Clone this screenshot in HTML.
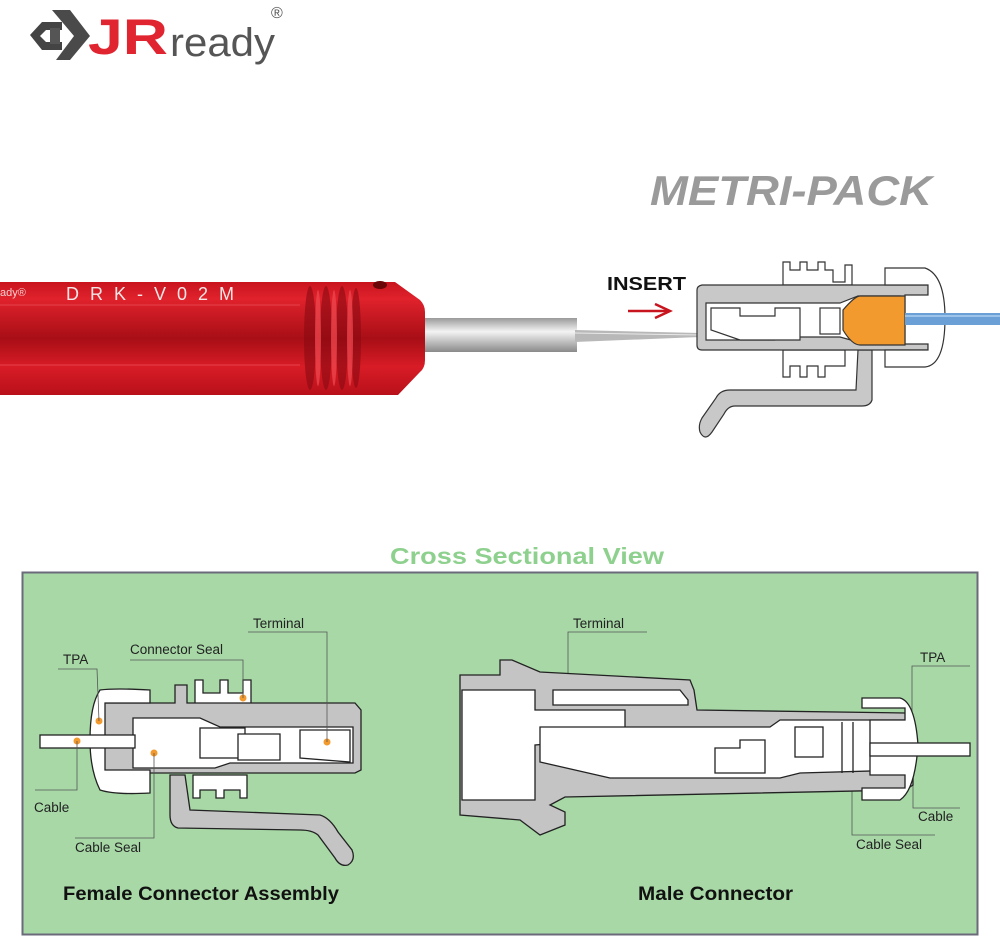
<!DOCTYPE html>
<html><head><meta charset="utf-8"><style>
html,body{margin:0;padding:0;background:#fff;width:1000px;height:941px;overflow:hidden}
svg{display:block}
text{font-family:"Liberation Sans",sans-serif}
</style></head><body>
<svg width="1000" height="941" viewBox="0 0 1000 941" xmlns="http://www.w3.org/2000/svg">
<defs>
<linearGradient id="red" x1="0" y1="0" x2="0" y2="1">
<stop offset="0" stop-color="#c8141e"/><stop offset="0.15" stop-color="#e0222c"/>
<stop offset="0.5" stop-color="#a80e16"/><stop offset="0.75" stop-color="#d81c26"/><stop offset="1" stop-color="#b8101a"/>
</linearGradient>
<linearGradient id="steel" x1="0" y1="0" x2="0" y2="1">
<stop offset="0" stop-color="#9a9a9a"/><stop offset="0.4" stop-color="#f4f4f4"/><stop offset="1" stop-color="#8a8a8a"/>
</linearGradient>
</defs>
<!-- logo -->
<g>
<polygon points="30,35 42,22 62,22 62,30 46,30 40,36 46,42 62,42 62,50 42,50" fill="#444"/>
<polygon points="52,10 70,10 90,36 70,60 56,60 74,36" fill="#4a4a4a"/>
<polygon points="50,28 60,28 60,44 50,44" fill="#555"/>
<text x="88" y="54" font-size="50" font-weight="bold" fill="#e02530" textLength="80" lengthAdjust="spacingAndGlyphs">JR</text>
<text x="170" y="56" font-size="40" fill="#555" textLength="105" lengthAdjust="spacingAndGlyphs">ready</text>
<text x="271" y="18" font-size="16" fill="#555">®</text>
</g>
<text x="650" y="205" font-size="42" font-weight="bold" font-style="italic" fill="#9a9a9a" textLength="282" lengthAdjust="spacingAndGlyphs">METRI-PACK</text>
<!-- tool -->
<rect x="425" y="318" width="152" height="34" fill="url(#steel)"/>
<polygon points="575,330 700,333 700,337 575,342" fill="#b8b8b8"/>
<line x1="575" y1="333" x2="700" y2="335" stroke="#e8e8e8" stroke-width="1"/>
<path d="M0,282 H395 L420,300 Q425,305 425,312 V360 Q425,368 420,372 L398,395 H0 Z" fill="url(#red)"/>
<g fill="#8a0a12" opacity="0.6">
<ellipse cx="310" cy="338" rx="6" ry="52"/><ellipse cx="326" cy="338" rx="6" ry="52"/><ellipse cx="342" cy="338" rx="6" ry="52"/><ellipse cx="356" cy="338" rx="5" ry="50"/>
</g>
<g fill="#f04a52" opacity="0.7">
<ellipse cx="318" cy="338" rx="3" ry="48"/><ellipse cx="334" cy="338" rx="3" ry="48"/><ellipse cx="350" cy="338" rx="3" ry="48"/>
</g>
<line x1="0" y1="305" x2="300" y2="305" stroke="#e8434b" stroke-width="1"/>
<line x1="0" y1="365" x2="300" y2="365" stroke="#e8434b" stroke-width="1"/>
<ellipse cx="380" cy="285" rx="7" ry="4" fill="#6a0608"/>
<text x="0" y="296" font-size="11" fill="#f3d0d0">ady®</text>
<text x="66" y="300" font-size="18" fill="#f5e6e6" textLength="168" lengthAdjust="spacing">DRK-V02M</text>
<!-- insert -->
<text x="607" y="290" font-size="18" font-weight="bold" fill="#111" textLength="79" lengthAdjust="spacingAndGlyphs">INSERT</text>
<line x1="628" y1="311" x2="668" y2="311" stroke="#c8141e" stroke-width="2.5"/>
<polyline points="655,304 670,311 655,318" fill="none" stroke="#c8141e" stroke-width="2.5"/>
<!-- top connector -->
<g stroke="#333" stroke-width="1.2">
<path d="M858,350 L872,350 L872,400 Q870,406 862,406 L735,406 Q728,406 724,414 L712,432 Q705,442 700,432 Q698,425 702,418 L716,398 Q720,390 730,390 L856,390 Z" fill="#c8c8c8"/>
<path d="M783,285 V262 H790 V270 H800 V262 H807 V270 H818 V262 H825 V270 H833 V282 H845 V265 H852 V285 Z" fill="#fff"/>
<path d="M783,350 V377 H790 V366 H800 V377 H807 V366 H818 V377 H825 V366 H845 V350 Z" fill="#fff"/>
<path d="M697,290 Q697,286 702,285 H928 V350 H702 Q697,350 697,345 Z" fill="#c8c8c8"/>
<path d="M706,303 H840 L858,296 H900 V342 H858 L840,337 H780 L775,340 H706 Z" fill="#fff"/>
<path d="M885,268 H925 Q945,275 945,318 Q945,365 925,367 H885 V350 H928 V344 H905 V295 H928 V285 H885 Z" fill="#fff"/>
<path d="M843,310 Q855,296 860,296 H905 V345 H860 Q852,345 843,330 Z" fill="#f29a2e"/>
<path d="M711,308 H740 V316 H775 V308 H800 V340 H740 L711,330 Z" fill="#fff"/>
<rect x="820" y="308" width="20" height="26" fill="#fff"/>
</g>
<rect x="905" y="313" width="95" height="12" fill="#6aa0d6"/>
<line x1="905" y1="316" x2="1000" y2="316" stroke="#9cc4ea" stroke-width="2"/>
<!-- cross section -->
<text x="527" y="564" font-size="23" font-weight="bold" fill="#8ed08e" text-anchor="middle" textLength="274" lengthAdjust="spacingAndGlyphs">Cross Sectional View</text>
<rect x="22.5" y="572.5" width="955" height="362" fill="#a7d8a6" stroke="#6a6a7a" stroke-width="2"/>
<!-- female -->
<g stroke="#222" stroke-width="1.3">
<path d="M170,775 L185,775 L190,810 L320,815 Q330,818 338,832 L352,850 Q356,860 348,865 Q340,867 335,858 L318,835 Q312,830 300,830 L178,828 Q170,826 170,815 Z" fill="#c4c4c4"/>
<path d="M195,705 V680 H203 V693 H220 V680 H228 V693 H243 V680 H251 V705 Z" fill="#fff"/>
<path d="M193,775 V798 H200 V790 H216 V798 H224 V790 H240 V798 H247 V775 Z" fill="#fff"/>
<path d="M103,703 H175 V685 H187 V703 H355 L361,710 V770 L355,773 H103 Z" fill="#c4c4c4"/>
<path d="M133,718 H200 L220,727 H353 V763 H230 L215,768 H133 Z" fill="#fff"/>
<path d="M100,690 Q115,688 150,690 V703 H105 V770 H150 V793 Q115,795 100,790 Q90,770 90,740 Q90,705 100,690 Z" fill="#fff"/>
<rect x="40" y="735" width="95" height="13" fill="#fff"/>
<rect x="200" y="728" width="45" height="30" fill="#fff"/>
<path d="M238,734 H280 V760 H238 Z" fill="#fff"/>
<path d="M300,730 H350 V762 L300,758 Z" fill="#fff"/>
</g>
<g fill="#f29a2e">
<circle cx="77" cy="741" r="3.5"/><circle cx="99" cy="721" r="3.5"/><circle cx="154" cy="753" r="3.5"/><circle cx="243" cy="698" r="3.5"/><circle cx="327" cy="742" r="3.5"/><circle cx="568" cy="734" r="3.5"/><circle cx="912" cy="724" r="3.5"/><circle cx="913" cy="750" r="3.5"/><circle cx="852" cy="750" r="3.5"/>
</g>
<g stroke="#555" stroke-width="0.8" fill="none">
<polyline points="58,669 97,669 99,721"/>
<polyline points="77,741 77,790 35,790"/>
<polyline points="130,660 243,660 243,698"/>
<polyline points="154,753 154,838 75,838"/>
<polyline points="248,632 327,632 327,742"/>
<polyline points="568,734 568,632 647,632"/>
<polyline points="970,666 912,666 912,724"/>
<polyline points="913,750 913,808 960,808"/>
<polyline points="852,750 852,835 935,835"/>
</g>
<!-- male -->
<g stroke="#222" stroke-width="1.3">
<path d="M460,675 H500 V660 H512 L540,672 L690,680 L694,690 L697,710 L905,713 L913,720 V785 L905,790 L565,797 L550,805 L565,812 V825 L540,835 L520,820 L460,815 Z" fill="#c4c4c4"/>
<path d="M462,690 H535 V710 L620,710 H625 V738 L535,745 V800 H462 Z" fill="#fff"/>
<path d="M540,727 H770 L780,720 H905 V770 L800,773 L780,778 H610 L540,762 Z" fill="#fff"/>
<path d="M553,690 H680 L688,700 V705 H553 Z" fill="#fff"/>
<path d="M862,698 H900 Q915,702 918,745 Q915,790 900,800 H862 V788 H905 V775 H870 V720 H905 V708 H862 Z" fill="#fff"/>
<rect x="870" y="743" width="100" height="13" fill="#fff"/>
<path d="M715,748 H740 V740 H765 V773 H715 Z" fill="#fff"/>
<rect x="795" y="727" width="28" height="30" fill="#fff"/>
<line x1="842" y1="722" x2="842" y2="773"/><line x1="853" y1="722" x2="853" y2="773"/>
</g>
<g font-size="13.5" fill="#222">
<text x="253" y="628">Terminal</text>
<text x="130" y="654">Connector Seal</text>
<text x="63" y="664">TPA</text>
<text x="34" y="812">Cable</text>
<text x="75" y="852">Cable Seal</text>
<text x="573" y="628">Terminal</text>
<text x="920" y="662">TPA</text>
<text x="918" y="821">Cable</text>
<text x="856" y="849">Cable Seal</text>
</g>
<text x="63" y="900" font-size="19" font-weight="bold" fill="#111" textLength="276" lengthAdjust="spacingAndGlyphs">Female Connector Assembly</text>
<text x="638" y="900" font-size="19" font-weight="bold" fill="#111" textLength="155" lengthAdjust="spacingAndGlyphs">Male Connector</text>
</svg>
</body></html>
